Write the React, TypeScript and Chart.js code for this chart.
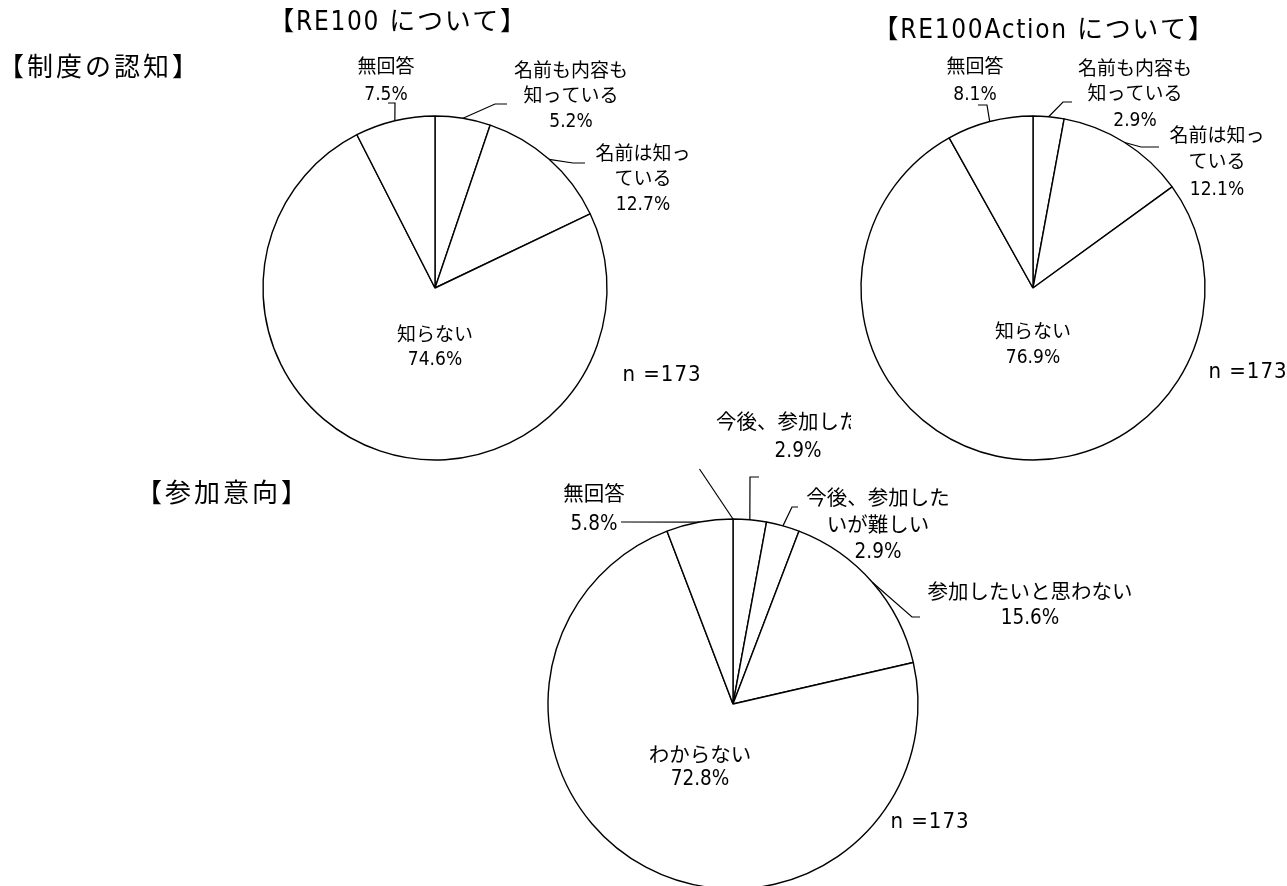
import React, { useEffect, useRef } from "react";
import { Chart, registerables } from "chart.js";

Chart.register(...registerables);

// ---------------- data ----------------
const awarenessCategories = ["名前も内容も知っている", "名前は知っている", "知らない", "無回答"];
const re100Values = [5.2, 12.7, 74.6, 7.5];
const re100ActionValues = [2.9, 12.1, 76.9, 8.1];
const awarenessLabelLines = [["名前も内容も", "知っている"], ["名前は知っ", "ている"], ["知らない"], ["無回答"]];

const intentCategories = ["今後、参加したい", "今後、参加したいが難しい", "参加したいと思わない", "わからない", "無回答"];
const intentValues = [2.9, 2.9, 15.6, 72.8, 5.8];
const intentLabelLines = [["今後、参加したい"], ["今後、参加した", "いが難しい"], ["参加したいと思わない"], ["わからない"], ["無回答"]];

const sampleSizeText = "n =173";
const sectionTitles = ["【制度の認知】", "【参加意向】"];
const chartTitles = ["【RE100 について】", "【RE100Action について】"];

// ---------------- layout ----------------
const W = 1287;
const H = 900;
const FONT_STACK = '"Liberation Sans Narrow", "DejaVu Sans Condensed", "Noto Sans CJK JP", sans-serif';
const BORDER = 1.4;

type LabelLayout = {
  dx: number;
  dy: number;
  gap: number;
  leader?: [number, number][];
  clipRight?: number;
  startLine?: [number, number];
};

type TitleLayout = { text: string; x: number; y: number; align: CanvasTextAlign; size: number; spacing: number };

type PieLayout = {
  cx: number;
  cy: number;
  r: number;
  font: number;
  labels: LabelLayout[];
  n: [number, number];
  titles: TitleLayout[];
};

const pieLayouts: PieLayout[] = [
  {
    cx: 435, cy: 288, r: 172, font: 19,
    labels: [
      { dx: 136, dy: -216, gap: 25, leader: [[60, -184], [72, -184]] },
      { dx: 208, dy: -133, gap: 25, leader: [[138, -125], [150, -125]] },
      { dx: 0, dy: 48, gap: 24 },
      { dx: -49, dy: -220, gap: 27, leader: [[-40, -185], [-47, -185]] },
    ],
    n: [227, 87],
    titles: [
      { text: sectionTitles[0], x: -2, y: 69, align: "left", size: 26, spacing: 3 },
      { text: chartTitles[0], x: 398, y: 23, align: "center", size: 26, spacing: 1.7 },
    ],
  },
  {
    cx: 1033, cy: 288, r: 172, font: 19,
    labels: [
      { dx: 102, dy: -218, gap: 25.5, leader: [[30, -186], [39, -186]] },
      { dx: 184, dy: -151, gap: 26.5, leader: [[108, -141], [126, -141]] },
      { dx: 0, dy: 45, gap: 25 },
      { dx: -58, dy: -220, gap: 27, leader: [[-46, -183], [-55, -183]] },
    ],
    n: [215, 84],
    titles: [{ text: chartTitles[1], x: 1044, y: 31, align: "center", size: 26, spacing: 1.7 }],
  },
  {
    cx: 733, cy: 704, r: 185, font: 20.5,
    labels: [
      { dx: 65, dy: -280, gap: 28, leader: [[17, -227], [26, -227]], clipRight: 118, startLine: [-33.5, -235] },
      { dx: 145, dy: -204, gap: 26.5, leader: [[59, -197], [65, -197]] },
      { dx: 297, dy: -110, gap: 25, leader: [[179, -87], [187, -87]] },
      { dx: -33, dy: 53, gap: 23 },
      { dx: -139, dy: -208, gap: 28.5, leader: [[-112, -182]] },
    ],
    n: [197, 118],
    titles: [{ text: sectionTitles[1], x: 136, y: 495, align: "left", size: 26, spacing: 3 }],
  },
];

type PieSpec = {
  categories: string[];
  values: number[];
  lines: string[][];
  layout: PieLayout;
};

function labelPlugin(spec: PieSpec) {
  return {
    id: "sliceLabels",
    afterDraw(chart: any) {
      const ctx: any = chart.ctx;
      const meta = chart.getDatasetMeta(0);
      const L = spec.layout;
      ctx.save();
      ctx.fillStyle = "#000";
      ctx.strokeStyle = "#000";
      ctx.lineWidth = 1.2;
      ctx.textAlign = "center";
      ctx.textBaseline = "middle";
      let cx = 0;
      let cy = 0;
      meta.data.forEach((arc: any, i: number) => {
        const p = arc.getProps(["x", "y", "startAngle", "endAngle", "outerRadius"], true);
        cx = p.x;
        cy = p.y;
        const lab = L.labels[i];
        const mid = (p.startAngle + p.endAngle) / 2;
        if (lab.leader) {
          ctx.beginPath();
          ctx.moveTo(p.x + Math.cos(mid) * p.outerRadius, p.y + Math.sin(mid) * p.outerRadius);
          lab.leader.forEach(([dx, dy]) => ctx.lineTo(p.x + dx, p.y + dy));
          ctx.stroke();
        }
        if (lab.startLine) {
          ctx.beginPath();
          ctx.moveTo(p.x + Math.cos(p.startAngle) * p.outerRadius, p.y + Math.sin(p.startAngle) * p.outerRadius);
          ctx.lineTo(p.x + lab.startLine[0], p.y + lab.startLine[1]);
          ctx.stroke();
        }
        const textLines = [...spec.lines[i], `${spec.values[i].toFixed(1)}%`];
        ctx.font = `${L.font}px ${FONT_STACK}`;
        textLines.forEach((t, k) => {
          const tx = p.x + lab.dx;
          const ty = p.y + lab.dy + k * lab.gap;
          if (lab.clipRight !== undefined && k === 0) {
            ctx.save();
            ctx.beginPath();
            ctx.rect(0, 0, p.x + lab.clipRight, H);
            ctx.clip();
            ctx.fillText(t, tx, ty);
            ctx.restore();
          } else {
            ctx.fillText(t, tx, ty);
          }
        });
      });
      ctx.font = `22px ${FONT_STACK}`;
      ctx.letterSpacing = "1px";
      ctx.fillText(sampleSizeText, cx + L.n[0], cy + L.n[1]);
      L.titles.forEach((t) => {
        ctx.font = `${t.size}px ${FONT_STACK}`;
        ctx.letterSpacing = `${t.spacing}px`;
        ctx.textAlign = t.align;
        ctx.fillText(t.text, t.x, t.y);
      });
      ctx.letterSpacing = "0px";
      ctx.restore();
    },
  };
}

function buildConfig(spec: PieSpec): any {
  const L = spec.layout;
  const S = 2 * L.r + BORDER;
  return {
    type: "pie",
    data: {
      labels: spec.categories,
      datasets: [
        {
          data: spec.values,
          backgroundColor: "#ffffff",
          borderColor: "#000000",
          borderWidth: BORDER,
        },
      ],
    },
    options: {
      responsive: false,
      maintainAspectRatio: false,
      animation: false,
      devicePixelRatio: 1,
      events: [],
      layout: {
        padding: {
          left: L.cx - S / 2,
          top: L.cy - S / 2,
          right: W - (L.cx + S / 2),
          bottom: H - (L.cy + S / 2),
        },
      },
      plugins: {
        legend: { display: false },
        tooltip: { enabled: false },
        title: { display: false },
      },
    },
    plugins: [labelPlugin(spec)],
  };
}

export default function App() {
  const r0 = useRef<HTMLCanvasElement | null>(null);
  const r1 = useRef<HTMLCanvasElement | null>(null);
  const r2 = useRef<HTMLCanvasElement | null>(null);
  const refs = [r0, r1, r2];

  useEffect(() => {
    const specs: PieSpec[] = [
      { categories: awarenessCategories, values: re100Values, lines: awarenessLabelLines, layout: pieLayouts[0] },
      { categories: awarenessCategories, values: re100ActionValues, lines: awarenessLabelLines, layout: pieLayouts[1] },
      { categories: intentCategories, values: intentValues, lines: intentLabelLines, layout: pieLayouts[2] },
    ];
    const charts = specs.map((s, i) => new Chart(refs[i].current as HTMLCanvasElement, buildConfig(s)));
    return () => charts.forEach((c) => c.destroy());
  }, []);

  return (
    <div
      style={{
        position: "fixed",
        left: 0,
        top: 0,
        width: 1287,
        height: 886,
        overflow: "hidden",
        background: "#ffffff",
      }}
    >
      {refs.map((r, i) => (
        <canvas
          key={i}
          ref={r}
          width={W}
          height={H}
          style={{ position: "absolute", left: 0, top: 0, width: W, height: H }}
        />
      ))}
    </div>
  );
}
